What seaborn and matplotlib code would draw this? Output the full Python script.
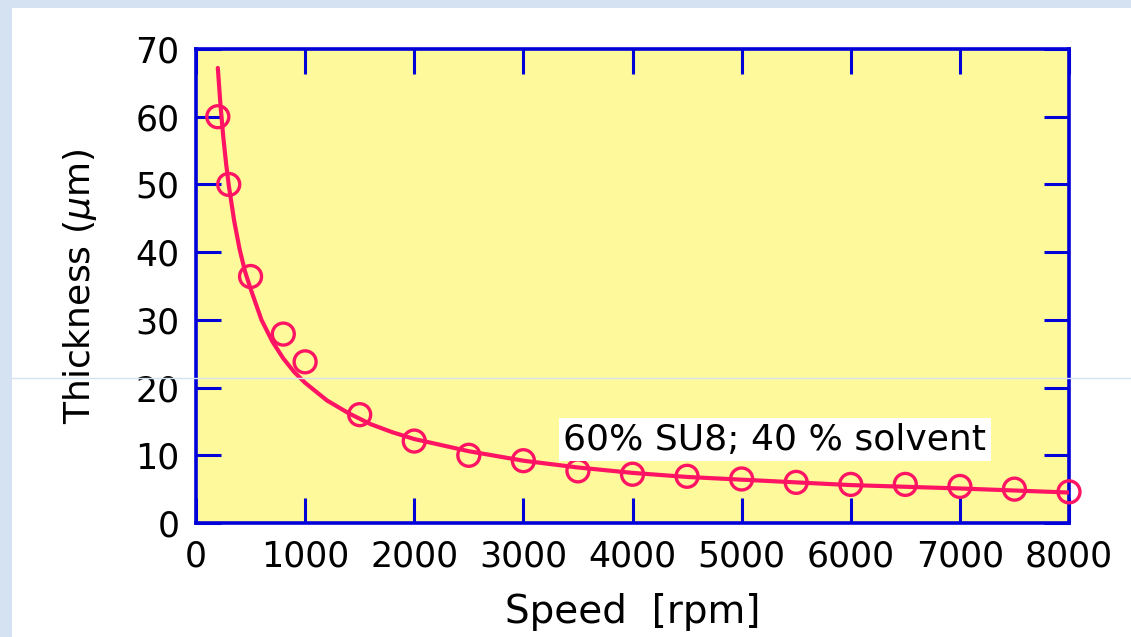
import numpy as np
import pandas as pd
import matplotlib
matplotlib.use("Agg")
import matplotlib.pyplot as plt
import seaborn as sns
from matplotlib.patches import Rectangle
from matplotlib.lines import Line2D

# measured points
speed_rpm = [200, 300, 500, 800, 1000, 1500, 2000, 2500, 3000, 3500,
             4000, 4500, 5000, 5500, 6000, 6500, 7000, 7500, 8000]
thickness_um = [60.0, 50.0, 36.4, 27.9, 23.8, 16.0, 12.1, 10.0, 9.2, 7.7,
                7.2, 6.9, 6.5, 6.0, 5.7, 5.7, 5.4, 5.0, 4.6]

# fitted curve
curve_speed = [200, 225, 250, 275, 300, 350, 400, 450, 500, 600, 700, 800,
               900, 1000, 1200, 1400, 1600, 1800, 2000, 2500, 3000, 3500,
               4000, 4500, 5000, 6000, 7000, 8000]
curve_thick = [67.2, 61.6, 57.0, 53.2, 49.9, 44.6, 40.4, 37.1, 34.6, 30.0,
               26.8, 24.3, 22.3, 20.7, 18.1, 16.2, 14.6, 13.4, 12.4, 10.6,
               9.2, 8.2, 7.4, 6.8, 6.4, 5.6, 5.1, 4.5]

x_ticks = [0, 1000, 2000, 3000, 4000, 5000, 6000, 7000, 8000]
y_ticks = [0, 10, 20, 30, 40, 50, 60, 70]
note = "60% SU8; 40 % solvent"

pts = pd.DataFrame({"speed": speed_rpm, "thickness": thickness_um})
fit = pd.DataFrame({"speed": curve_speed, "thickness": curve_thick})

sns.set_style("ticks")
plt.rcParams["font.family"] = ["DejaVu Sans"]
plt.rcParams["text.color"] = "black"
plt.rcParams["axes.labelcolor"] = "black"

blue = "#0000D8"
pink = "#FF1464"
yellow = "#FEF99A"

fig = plt.figure(figsize=(11.31, 6.37), dpi=100)
fig.patch.set_facecolor("#D5E2F2")
# white slide panel
fig.add_artist(Rectangle((12 / 1131, 0), 1, 1 - 8 / 637, transform=fig.transFigure,
                         facecolor="white", edgecolor="none", zorder=0))

ax = fig.add_axes([196 / 1131, 1 - 523 / 637, 873 / 1131, 474 / 637])
ax.set_facecolor(yellow)

sns.lineplot(data=fit, x="speed", y="thickness", ax=ax, color=pink, lw=3, zorder=3)
sns.scatterplot(data=pts, x="speed", y="thickness", ax=ax, marker="o", s=250,
                facecolor="none", edgecolor=pink, linewidth=2.4, zorder=4, clip_on=False)

ax.set_xlim(0, 8000)
ax.set_ylim(0, 70)
ax.set_xticks(x_ticks)
ax.set_yticks(y_ticks)
ax.set_xticklabels([str(t) for t in x_ticks])
ax.set_yticklabels([str(t) for t in y_ticks])

for s in ax.spines.values():
    s.set_visible(True)
    s.set_color(blue)
    s.set_linewidth(2.6)
ax.tick_params(direction="in", length=18, width=2.2, color=blue,
               top=True, right=True, labelsize=25, labelcolor="black")
ax.tick_params(axis="x", pad=12)
ax.tick_params(axis="y", pad=12)

ax.set_xlabel("Speed  [rpm]", fontsize=28, labelpad=14)
ax.set_ylabel("Thickness ($\\mu$m)", fontsize=26, labelpad=26)

ax.text(3365, 12.3, note, fontsize=26, ha="left", va="center", zorder=5,
        bbox=dict(facecolor="white", edgecolor="none", pad=3))

# faint stray line across the slide
fig.add_artist(Line2D([0, 1], [1 - 378 / 637] * 2, transform=fig.transFigure,
                      color="#D5E2F2", lw=1, zorder=10))

fig.savefig("out.png", dpi=100, facecolor=fig.get_facecolor())
